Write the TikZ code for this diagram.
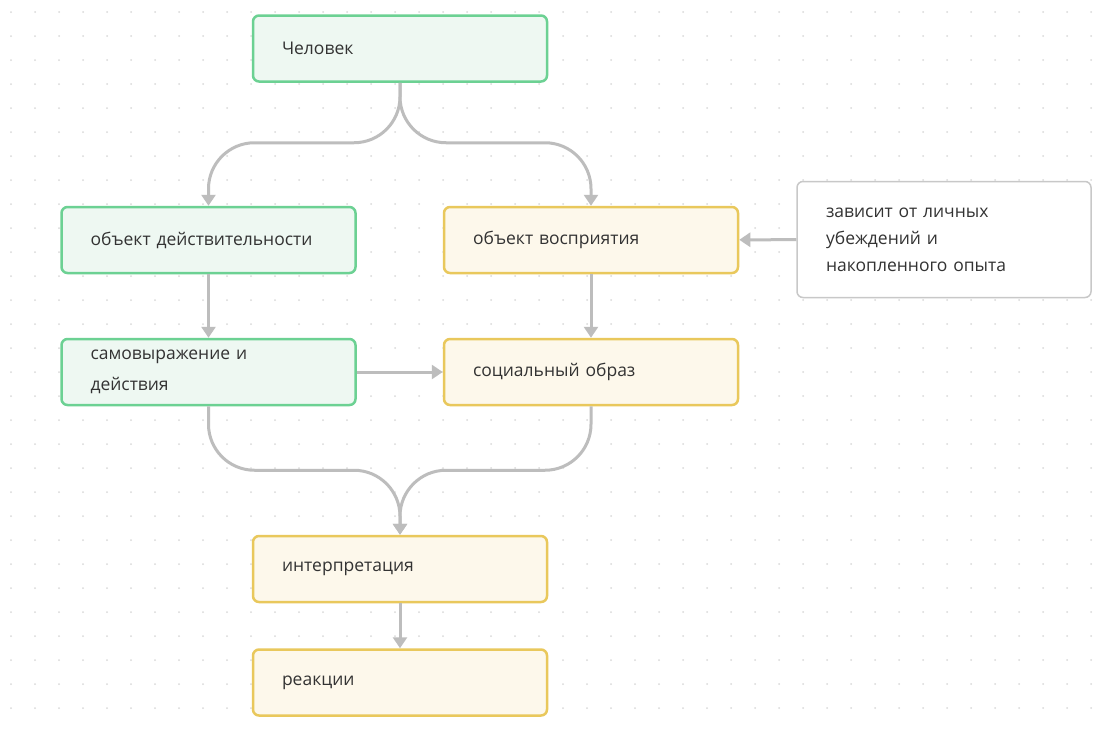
\documentclass[tikz,border=0pt]{standalone}
\usepackage{fontspec}
\setmainfont{Open Sans}
\usetikzlibrary{arrows.meta}
\definecolor{gborder}{HTML}{6CD193}
\definecolor{gfill}{HTML}{EEF8F2}
\definecolor{yborder}{HTML}{E9C85C}
\definecolor{yfill}{HTML}{FDF8EB}
\definecolor{lborder}{HTML}{C8C8C8}
\definecolor{arr}{HTML}{BDBDBD}
\definecolor{txt}{HTML}{333333}
\definecolor{dotc}{HTML}{DADADA}
\begin{document}
\begin{tikzpicture}[x=1pt,y=-1pt,
 box/.style={draw, line width=2.5pt, rounded corners=6pt, minimum width=294pt, minimum height=66pt, text width=236pt, inner xsep=29pt, align=left, font=\fontsize{17.5}{27}\selectfont, text=txt},
 gbox/.style={box, draw=gborder, fill=gfill},
 ybox/.style={box, draw=yborder, fill=yfill},
 nbox/.style={box, draw=lborder, fill=white, line width=1.5pt, minimum height=116pt},
 conn/.style={draw=arr, line width=3pt, -{Triangle[width=14pt,length=11pt]}},
 curved/.style={conn, rounded corners=46pt}
]
\path[use as bounding box] (0,0) rectangle (1110,728);
\fill[white] (0,0) rectangle (1110,728);
\foreach \i in {0,...,46} \foreach \j in {0,...,30} \fill[dotc] (11+24*\i, 12+24*\j) circle (1);

\node[gbox] (top) at (400,48.5) {Человек};
\node[gbox] (od) at (208.5,240) {объект действительности};
\node[ybox] (ov) at (591,240) {объект восприятия};
\node[nbox] (dep) at (944,239.5) {зависит от личных\\убеждений и\\накопленного опыта};
\node[gbox] (sam) at (208.5,372) {самовыражение и\\[4pt]действия};
\node[ybox] (soc) at (591,372) {социальный образ};
\node[ybox] (int) at (400,569) {интерпретация};
\node[ybox] (rea) at (400,682.5) {реакции};

\draw[curved] (top.south) -- ++(0,60) -| (od.north);
\draw[curved] (top.south) -- ++(0,60) -| (ov.north);
\draw[conn] (od) -- (sam);
\draw[conn] (ov) -- (soc);
\draw[conn] (sam) -- (soc);
\draw[conn] (dep) -- (ov);
\draw[curved] (sam.south) -- ++(0,64) -| (int.north);
\draw[curved] (soc.south) -- ++(0,64) -| (int.north);
\draw[conn] (int) -- (rea);
\end{tikzpicture}
\end{document}
